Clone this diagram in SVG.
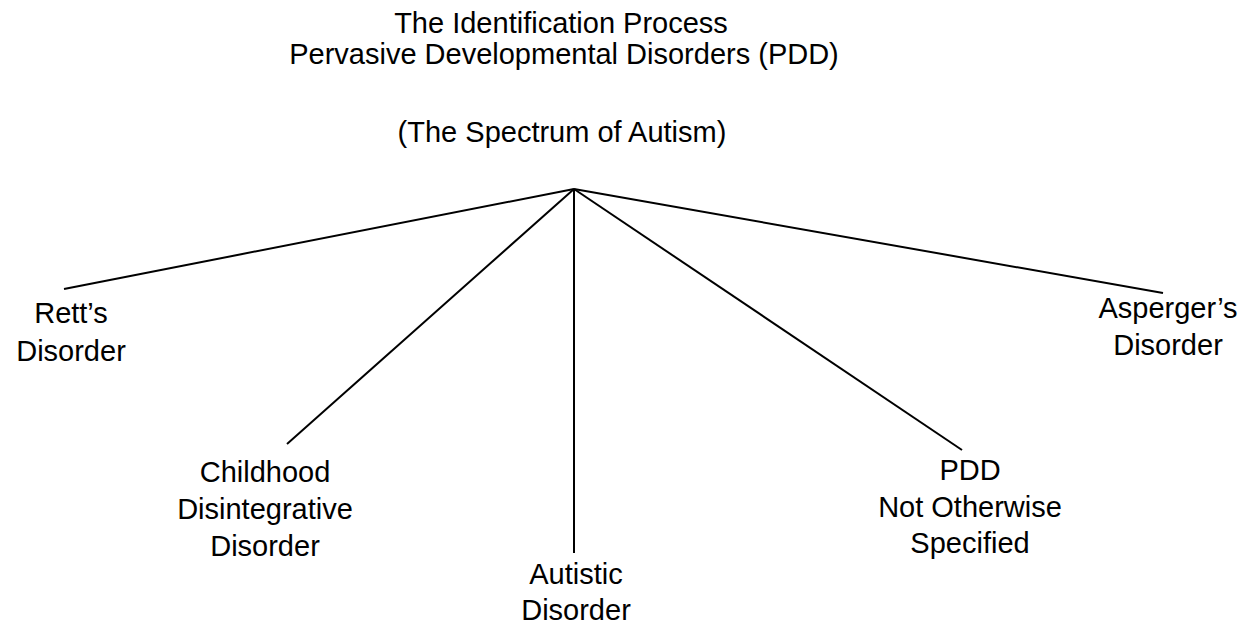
<svg xmlns="http://www.w3.org/2000/svg" width="1258" height="625" viewBox="0 0 1258 625">
  <style>
    text { font-family: "Liberation Sans", Arial, sans-serif; font-size: 29px; fill: #000; text-anchor: middle; }
    .edge { stroke: #000; stroke-width: 2; fill: none; }
  </style>
  <rect width="1258" height="625" fill="#fff"/>
  <g id="title">
    <text x="561" y="33">The Identification Process</text>
    <text x="564" y="64">Pervasive Developmental Disorders (PDD)</text>
    <text x="562" y="142">(The Spectrum of Autism)</text>
  </g>
  <g id="connectors">
    <line class="edge" x1="574" y1="189" x2="64" y2="289"/>
    <line class="edge" x1="574" y1="189" x2="287" y2="444"/>
    <line class="edge" x1="574" y1="189" x2="574" y2="553"/>
    <line class="edge" x1="574" y1="189" x2="962" y2="450"/>
    <line class="edge" x1="574" y1="189" x2="1163" y2="293"/>
  </g>
  <g id="rett">
    <text x="71" y="323">Rett’s</text>
    <text x="71" y="361">Disorder</text>
  </g>
  <g id="childhood">
    <text x="265" y="482">Childhood</text>
    <text x="265" y="519">Disintegrative</text>
    <text x="265" y="556">Disorder</text>
  </g>
  <g id="autistic">
    <text x="576" y="584">Autistic</text>
    <text x="576" y="620">Disorder</text>
  </g>
  <g id="pdd-nos">
    <text x="970" y="480">PDD</text>
    <text x="970" y="517">Not Otherwise</text>
    <text x="970" y="553">Specified</text>
  </g>
  <g id="asperger">
    <text x="1168" y="318">Asperger’s</text>
    <text x="1168" y="355">Disorder</text>
  </g>
</svg>
